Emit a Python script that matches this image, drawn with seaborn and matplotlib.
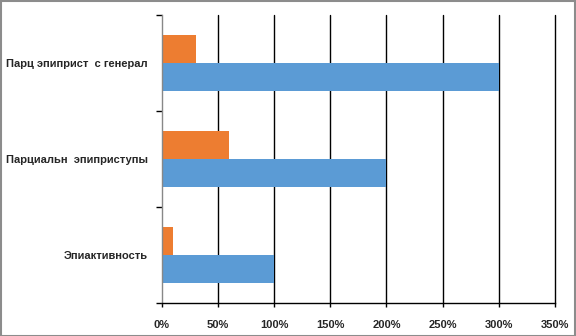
import matplotlib
matplotlib.use("Agg")
import matplotlib.pyplot as plt
import seaborn as sns
import pandas as pd
from matplotlib.ticker import FuncFormatter, FixedLocator

# категории и значения (в процентах)
categories = ["Парц эпиприст  с генерал", "Парциальн  эпиприступы", "Эпиактивность"]
series_names = ["Ряд 2", "Ряд 1"]
orange_vals = [30, 60, 10]
blue_vals = [300, 200, 100]
x_ticks = [0, 50, 100, 150, 200, 250, 300, 350]

df = pd.DataFrame({
    "cat": categories * 2,
    "series": [series_names[0]] * 3 + [series_names[1]] * 3,
    "val": orange_vals + blue_vals,
})

sns.set_style("white")
plt.rcParams['font.family'] = ['Liberation Sans', 'DejaVu Sans']

fig = plt.figure(figsize=(5.76, 3.36), dpi=100)
ax = fig.add_axes([0.281, 0.098, 0.6825, 0.857])

sns.barplot(data=df, y="cat", x="val", hue="series", order=categories,
            hue_order=series_names, palette=["#ED7D31", "#5B9BD5"],
            width=0.58, orient="h", legend=False, ax=ax, saturation=1,
            linewidth=0, edgecolor="none")

ax.set_xlim(0, 350)
ax.set_xticks(x_ticks)
ax.xaxis.set_major_formatter(FuncFormatter(lambda v, p: f"{int(v)}%"))
for t in x_ticks[1:]:
    ax.axvline(t, color="black", lw=1, zorder=0, clip_on=False)

ax.set_ylim(2.5, -0.5)
ax.yaxis.set_minor_locator(FixedLocator([-0.5, 0.5, 1.5, 2.5]))
ax.tick_params(axis="y", which="major", length=0, pad=10, labelsize=8)
ax.tick_params(axis="y", which="minor", left=True, length=4, color="black", width=1)
ax.tick_params(axis="x", which="major", bottom=True, length=3, color="black",
               width=1, labelsize=8, pad=9)
for lab in ax.get_xticklabels() + ax.get_yticklabels():
    lab.set_fontweight("bold")

for s in ["top", "right"]:
    ax.spines[s].set_visible(False)
ax.spines["left"].set_color("#888888")
ax.spines["left"].set_linewidth(1)
ax.spines["bottom"].set_color("black")
ax.spines["bottom"].set_linewidth(1)
ax.set_xlabel("")
ax.set_ylabel("")

fig.patches.append(plt.Rectangle((0.001, 0.001), 0.998, 0.997, transform=fig.transFigure,
                                 fill=False, edgecolor="#8c8c8c", lw=1.5))

fig.savefig("out.png", dpi=100)
